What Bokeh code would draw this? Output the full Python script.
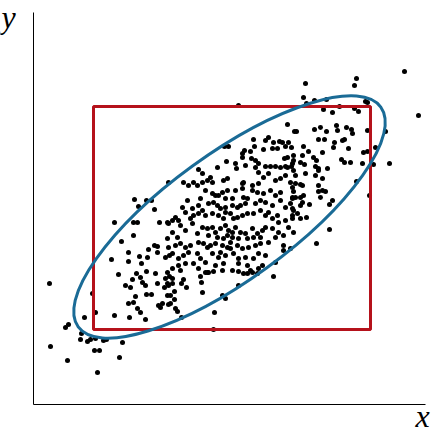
import math
from bokeh.plotting import figure
from bokeh.models import Range1d, Label, LinearAxis, FixedTicker
from bokeh.embed import file_html
from bokeh.resources import INLINE

# Sample points (x, y)
points = [
    (205,299),(254,280),(261,273),(220,265),(232,264),(235,267),(240,262),(246,263),(249,262),(255,262),
    (191,258),(195,258),(211,254),(209,251),(217,253),(221,258),(230,255),(239,256),(244,256),(252,258),
    (258,257),(193,243),(209,247),(218,246),(222,244),(225,241),(232,238),(237,238),(242,238),(247,237),
    (252,238),(258,238),(251,246),(254,247),(260,244),(184,237),(202,241),(203,236),(165,235),
    (371,333),(323,326),(321,319),(272,321),(270,307),(273,301),(281,304),(293,305),(332,303),(334,302),
    (290,295),(299,292),(306,298),(321,296),(325,293),(385,289),(263,273),(281,275),(287,277),(293,273),
    (303,279),(304,274),(313,277),(318,275),(319,271),(334,274),(352,273),(285,265),(291,265),(301,262),
    (309,264),(311,265),(270,258),(275,253),(289,252),(300,257),(315,256),(330,252),(334,253),(342,257),
    (260,249),(269,249),(280,247),(283,244),(308,245),(311,242),(317,242),(329,241),(340,240),(356,241),
    (259,241),(267,242),(271,240),(282,238),(285,236),(294,236),
    (285,234),(282,229),(289,226),(262,229),(272,231),(267,220),(269,219),(285,219),(289,214),(292,213),
    (285,213),(260,213),(259,207),(262,207),(267,207),(270,209),(287,207),(269,202),(267,199),(276,200),
    (299,204),(296,200),(259,196),(260,194),(264,191),(259,189),(267,186),(273,187),(323,223),(336,209),
    (296,175),(283,161),
    (135,222),(101,205),(105,198),(113,204),(118,204),(121,195),(81,182),(100,182),(104,182),(126,182),
    (134,182),(100,169),(88,163),(121,159),(124,158),(135,157),(134,166),(115,155),(124,152),(95,152),
    (106,148),(114,147),(136,149),(78,145),(95,143),(108,141),(113,133),(103,131),(85,130),(122,131),
    (16,121),(99,125),(107,127),(109,122),(112,119),(124,121),(132,126),(134,132),(131,117),(135,119),
    (92,119),(97,117),(102,108),(113,110),(118,110),(59,111),(95,101),(100,102),(104,96),(107,92),
    (125,99),(129,101),(127,97),(135,100),(62,92),(81,89),(96,87),(112,85),(51,87),(32,77),
    (35,80),(48,71),(47,65),(54,63),(57,65),(62,66),(70,64),(73,65),(89,62),(17,58),
    (61,54),(66,54),(34,44),(86,47),(64,32),
    (136,128),(139,126),(134,121),(139,121),(148,121),(150,125),(153,117),(141,113),(134,109),(137,109),
    (141,105),(137,101),(142,96),(144,93),(148,87),(167,128),(168,122),(174,132),(175,132),(169,112),
    (205,133),(214,131),(219,132),(205,119),(189,109),(192,106),(181,92),(180,75),(240,128),
    (212,239),(222,237),(254,237),(260,234),(235,231),(225,232),(169,231),(174,224),(179,222),(190,224),
    (194,226),(210,222),(209,221),(219,219),(225,221),(242,224),(247,226),(252,229),(257,222),(169,222),
    (177,227),(230,227),(150,222),(155,219),(160,222),(164,219),(172,214),(179,211),(182,209),(185,209),
    (189,212),(194,214),(202,214),(209,216),(219,214),(224,212),(230,211),(237,214),(242,209),(247,212),
    (259,217),(262,221),(167,206),(154,204),(192,206),(199,206),(210,207),(214,206),(175,201),(180,202),
    (184,199),(187,196),(192,197),(199,199),(204,197),(207,199),(212,201),(222,201),(227,204),(232,202),
    (239,199),(247,204),(252,197),(257,201),(259,206),(149,197),(159,196),(165,199),(169,194),(142,187),
    (152,192),(157,186),(160,189),(165,191),(172,189),(179,191),(185,189),(190,186),(192,192),(197,191),
    (200,186),(204,187),(209,189),(214,191),(220,191),(227,194),(232,189),(235,192),(239,186),(244,189),
    (245,182),(252,184),(259,186),(139,184),(135,181),(147,179),(145,184),(159,181),(169,177),(174,176),
    (179,177),(182,172),(187,176),(192,179),(195,174),(199,172),(202,177),(207,172),(212,171),(219,176),
    (224,171),(229,174),(232,177),(239,176),(245,172),(255,177),(260,172),(152,174),(139,172),(144,167),
    (164,171),(175,169),(184,167),(190,166),(194,169),(199,167),(205,166),(214,166),(220,167),(227,167),
    (242,167),(250,169),(142,159),(147,161),(152,157),(157,159),(165,162),(170,161),(174,157),(177,159),
    (182,161),(189,159),(194,157),(197,156),(204,159),(209,156),(215,157),(222,159),(227,161),(235,162),
    (250,159),(257,156),(197,162),(132,147),(139,151),(145,146),(150,149),(155,152),(164,151),(167,146),
    (172,142),(179,151),(185,147),(187,152),(192,149),(200,151),(205,146),(212,147),(220,146),(225,151),
    (232,149),(242,142),(250,154),(145,139),(152,141),(160,141),(182,139),(190,141),(205,141),(214,139),
    (229,139),(139,136),(147,134),(165,136),(172,132),(180,133),(189,134),(199,134),(210,131),(217,134),
    (224,131),(225,136),
]
xs = [p[0] for p in points]
ys = [p[1] for p in points]

# Marginal box (x from/to, y from/to)
box_x = [60, 337]
box_y = [75, 298]

# Covariance ellipse: centre, full axes, angle (degrees)
ell_center = [196, 187.5]
ell_axes = [374, 126]
ell_angle_deg = 36

# Axis extents
axis_x_bounds = (0, 392)
axis_y_bounds = (0, 392)

p = figure(width=434, height=434, output_backend="svg", toolbar_location=None,
           x_range=Range1d(-33, 401), y_range=Range1d(-30, 404),
           x_axis_type=None, y_axis_type=None,
           min_border=0, min_border_left=0, min_border_right=0,
           min_border_top=0, min_border_bottom=0)
p.outline_line_color = None
p.background_fill_color = "white"
p.border_fill_color = "white"

xaxis = LinearAxis(fixed_location=0, bounds=axis_x_bounds, ticker=FixedTicker(ticks=[]),
                   major_tick_line_color=None, minor_tick_line_color=None,
                   major_label_text_font_size="0px", axis_line_color="black", axis_line_width=1)
yaxis = LinearAxis(fixed_location=0, bounds=axis_y_bounds, ticker=FixedTicker(ticks=[]),
                   major_tick_line_color=None, minor_tick_line_color=None,
                   major_label_text_font_size="0px", axis_line_color="black", axis_line_width=1)
p.add_layout(xaxis, "below")
p.add_layout(yaxis, "left")

p.scatter(xs, ys, size=5, color="black", line_color=None)

p.quad(left=[box_x[0]], right=[box_x[1]], bottom=[box_y[0]], top=[box_y[1]],
       fill_color=None, line_color="#b5121b", line_width=3)

p.ellipse(x=[ell_center[0]], y=[ell_center[1]], width=[ell_axes[0]], height=[ell_axes[1]],
          angle=[math.radians(ell_angle_deg)], fill_color=None, line_color="#1a6b96", line_width=3)

p.add_layout(Label(x=-32, y=388, text="y", text_font="Liberation Serif", text_font_style="italic",
                   text_font_size="32px", text_align="left", text_baseline="alphabetic", text_color="black"))
p.add_layout(Label(x=389, y=-29, text="x", text_font="Liberation Serif", text_font_style="italic",
                   text_font_size="32px", text_align="center", text_baseline="bottom", text_color="black"))

open("out.html", "w").write(file_html(p, INLINE))
